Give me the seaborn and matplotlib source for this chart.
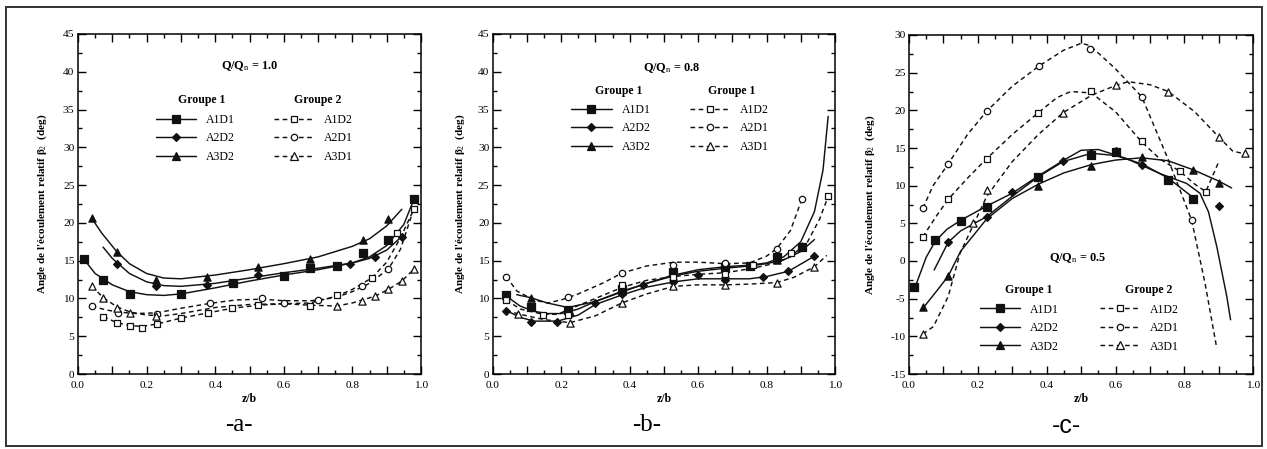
import matplotlib
matplotlib.use("Agg")
import matplotlib.pyplot as plt
from matplotlib.ticker import MultipleLocator, FuncFormatter
from matplotlib.lines import Line2D
from matplotlib.patches import Rectangle
import seaborn as sns

# ---------------------------------------------------------------- data
# Q/Qn = 1.0  (measured points and fitted curves)
a_A1D1_z = [0.017, 0.074, 0.152, 0.30, 0.453, 0.60, 0.676, 0.754, 0.832, 0.905, 0.98]
a_A1D1_b = [15.2, 12.5, 10.6, 10.6, 12.0, 13.0, 14.0, 14.3, 16.0, 17.8, 23.2]
a_A1D1_fz = [0.017, 0.05, 0.10, 0.15, 0.20, 0.25, 0.30, 0.40, 0.50, 0.60, 0.70, 0.80, 0.85, 0.90, 0.95, 0.98]
a_A1D1_fb = [15.2, 13.3, 11.8, 10.9, 10.5, 10.4, 10.6, 11.4, 12.3, 13.1, 13.8, 14.7, 15.5, 17.0, 19.8, 23.2]
a_A2D2_z = [0.113, 0.227, 0.375, 0.45, 0.526, 0.793, 0.866, 0.944]
a_A2D2_b = [14.6, 11.6, 11.8, 12.0, 13.1, 14.6, 15.5, 18.1]
a_A2D2_fz = [0.073, 0.10, 0.15, 0.20, 0.25, 0.30, 0.40, 0.50, 0.60, 0.70, 0.80, 0.85, 0.90, 0.944]
a_A2D2_fb = [16.8, 15.3, 13.3, 12.2, 11.7, 11.6, 12.0, 12.7, 13.4, 14.0, 14.7, 15.3, 16.4, 18.2]
a_A3D2_z = [0.04, 0.113, 0.227, 0.375, 0.526, 0.676, 0.832, 0.905]
a_A3D2_b = [20.6, 16.1, 12.5, 12.8, 14.1, 15.2, 17.7, 20.5]
a_A3D2_fz = [0.04, 0.07, 0.113, 0.15, 0.20, 0.25, 0.30, 0.40, 0.50, 0.60, 0.70, 0.80, 0.85, 0.90, 0.944]
a_A3D2_fb = [20.6, 18.6, 16.2, 14.6, 13.3, 12.7, 12.6, 13.1, 13.8, 14.6, 15.5, 16.9, 17.9, 19.6, 21.8]
a_A1D2_z = [0.074, 0.113, 0.152, 0.186, 0.229, 0.30, 0.38, 0.45, 0.526, 0.676, 0.754, 0.856, 0.929, 0.98]
a_A1D2_b = [7.6, 6.7, 6.35, 6.1, 6.6, 7.4, 8.1, 8.7, 9.1, 9.0, 10.5, 12.7, 18.7, 21.9]
a_A1D2_fz = [0.074, 0.113, 0.152, 0.186, 0.229, 0.30, 0.38, 0.45, 0.526, 0.60, 0.676, 0.754, 0.80, 0.856, 0.90, 0.94, 0.98]
a_A1D2_fb = [7.6, 6.8, 6.4, 6.3, 6.6, 7.4, 8.1, 8.7, 9.1, 9.3, 9.4, 10.3, 11.2, 12.7, 14.8, 18.0, 21.9]
a_A2D1_z = [0.04, 0.117, 0.23, 0.385, 0.535, 0.60, 0.70, 0.827, 0.905]
a_A2D1_b = [9.0, 8.1, 7.9, 9.35, 10.0, 9.4, 9.8, 11.6, 13.9]
a_A2D1_fz = [0.04, 0.08, 0.117, 0.17, 0.23, 0.30, 0.385, 0.46, 0.535, 0.60, 0.68, 0.75, 0.80, 0.85, 0.905, 0.94, 0.98]
a_A2D1_fb = [9.0, 8.5, 8.2, 8.0, 8.1, 8.7, 9.35, 9.8, 9.9, 9.7, 9.7, 10.1, 10.9, 12.0, 13.9, 16.5, 22.0]
a_A3D1_z = [0.04, 0.074, 0.113, 0.152, 0.227, 0.754, 0.827, 0.866, 0.905, 0.944, 0.98]
a_A3D1_b = [11.6, 10.0, 8.7, 8.1, 7.7, 9.0, 9.6, 10.3, 11.3, 12.3, 13.9]
a_A3D1_fz = [0.04, 0.074, 0.113, 0.152, 0.20, 0.25, 0.30, 0.40, 0.50, 0.60, 0.68, 0.754, 0.80, 0.866, 0.905, 0.944, 0.98]
a_A3D1_fb = [11.6, 10.1, 8.9, 8.2, 7.8, 7.7, 8.0, 8.8, 9.2, 9.3, 9.1, 9.0, 9.4, 10.3, 11.2, 12.3, 13.9]

# Q/Qn = 0.8
b_A1D1_z = [0.04, 0.111, 0.221, 0.377, 0.528, 0.679, 0.752, 0.83, 0.903]
b_A1D1_b = [10.4, 8.9, 8.5, 11.2, 13.5, 14.0, 14.3, 15.5, 16.8]
b_A1D1_fz = [0.04, 0.08, 0.12, 0.16, 0.20, 0.25, 0.30, 0.38, 0.45, 0.52, 0.60, 0.68, 0.75, 0.80, 0.85, 0.90, 0.94, 0.965, 0.98]
b_A1D1_fb = [10.3, 9.0, 8.3, 8.0, 8.0, 8.6, 9.6, 10.9, 12.0, 13.0, 13.8, 14.2, 14.4, 14.7, 15.5, 17.5, 21.5, 27.0, 34.1]
b_A2D2_z = [0.04, 0.111, 0.187, 0.299, 0.377, 0.44, 0.528, 0.601, 0.679, 0.79, 0.864, 0.94]
b_A2D2_b = [8.4, 6.9, 6.9, 9.35, 10.6, 11.8, 12.2, 13.1, 12.4, 12.9, 13.6, 15.6]
b_A2D2_fz = [0.04, 0.08, 0.12, 0.19, 0.25, 0.30, 0.38, 0.45, 0.53, 0.60, 0.68, 0.75, 0.80, 0.864, 0.94]
b_A2D2_fb = [8.4, 7.5, 7.0, 7.0, 7.8, 9.2, 10.5, 11.5, 12.2, 12.6, 12.6, 12.6, 12.9, 13.6, 15.6]
b_A3D2_z = [0.111, 0.226, 0.377, 0.528, 0.679, 0.83, 0.903]
b_A3D2_b = [10.1, 8.2, 11.0, 13.0, 13.3, 15.1, 17.0]
b_A3D2_fz = [0.07, 0.111, 0.16, 0.22, 0.30, 0.38, 0.45, 0.53, 0.60, 0.68, 0.75, 0.80, 0.85, 0.90, 0.94]
b_A3D2_fb = [10.5, 10.1, 9.4, 8.8, 9.6, 11.0, 12.0, 13.0, 13.6, 14.0, 14.3, 14.6, 15.1, 16.2, 17.8]
b_A1D2_z = [0.04, 0.148, 0.221, 0.377, 0.528, 0.679, 0.76, 0.87, 0.98]
b_A1D2_b = [9.8, 7.8, 7.8, 11.8, 12.9, 13.3, 14.4, 16.0, 23.5]
b_A1D2_fz = [0.04, 0.08, 0.148, 0.19, 0.22, 0.30, 0.38, 0.45, 0.53, 0.60, 0.68, 0.76, 0.82, 0.87, 0.92, 0.955, 0.98]
b_A1D2_fb = [9.8, 8.6, 7.9, 7.9, 8.5, 10.0, 11.5, 12.4, 12.9, 13.2, 13.4, 14.0, 14.6, 15.5, 17.5, 20.5, 23.5]
b_A2D1_z = [0.04, 0.221, 0.377, 0.528, 0.679, 0.83, 0.903]
b_A2D1_b = [12.9, 10.2, 13.4, 14.4, 14.7, 16.6, 23.1]
b_A2D1_fz = [0.04, 0.07, 0.12, 0.16, 0.20, 0.25, 0.32, 0.38, 0.45, 0.53, 0.60, 0.68, 0.75, 0.80, 0.83, 0.87, 0.903]
b_A2D1_fb = [12.9, 11.0, 9.8, 9.4, 9.8, 10.6, 12.0, 13.4, 14.3, 14.8, 14.8, 14.6, 14.7, 15.6, 16.6, 19.0, 23.1]
b_A3D1_z = [0.074, 0.226, 0.377, 0.528, 0.679, 0.83, 0.94]
b_A3D1_b = [7.9, 6.7, 9.4, 11.6, 11.8, 12.1, 14.2]
b_A3D1_fz = [0.04, 0.08, 0.15, 0.226, 0.30, 0.377, 0.45, 0.528, 0.60, 0.679, 0.75, 0.83, 0.88, 0.94, 0.976]
b_A3D1_fb = [8.4, 7.9, 7.2, 6.8, 7.7, 9.4, 10.6, 11.6, 11.8, 11.8, 11.9, 12.1, 12.8, 14.2, 15.7]

# Q/Qn = 0.5
c_A1D1_z = [0.015, 0.076, 0.15, 0.226, 0.376, 0.53, 0.60, 0.753, 0.826]
c_A1D1_b = [-3.5, 2.8, 5.35, 7.2, 11.1, 14.1, 14.5, 10.8, 8.2]
c_A1D1_fz = [0.015, 0.05, 0.076, 0.11, 0.15, 0.226, 0.30, 0.376, 0.45, 0.50, 0.55, 0.632, 0.729, 0.806, 0.845, 0.87, 0.894, 0.923, 0.934]
c_A1D1_fb = [-3.8, 0.5, 2.6, 4.2, 5.4, 7.3, 9.0, 11.3, 13.4, 14.7, 14.8, 13.6, 11.6, 10.3, 9.0, 6.5, 1.9, -4.7, -7.8]
c_A2D2_z = [0.114, 0.226, 0.30, 0.376, 0.448, 0.53, 0.60, 0.676, 0.826, 0.901]
c_A2D2_b = [2.5, 5.8, 9.1, 11.2, 13.3, 14.3, 14.6, 12.7, 8.2, 7.3]
c_A2D2_fz = [0.073, 0.114, 0.15, 0.226, 0.30, 0.376, 0.448, 0.53, 0.60, 0.676, 0.753, 0.826]
c_A2D2_fb = [-1.2, 2.5, 4.0, 5.9, 8.6, 11.2, 13.2, 14.3, 14.0, 12.9, 11.0, 8.4]
c_A3D2_z = [0.04, 0.114, 0.376, 0.53, 0.676, 0.826, 0.901]
c_A3D2_b = [-6.1, -2.0, 10.0, 12.6, 13.8, 12.1, 10.3]
c_A3D2_fz = [0.04, 0.08, 0.114, 0.15, 0.226, 0.30, 0.376, 0.45, 0.53, 0.60, 0.676, 0.753, 0.826, 0.90, 0.937]
c_A3D2_fb = [-6.3, -4.0, -2.0, 1.3, 5.6, 8.3, 10.2, 11.7, 12.8, 13.4, 13.7, 13.3, 12.1, 10.6, 9.7]
c_A1D2_z = [0.04, 0.114, 0.226, 0.376, 0.53, 0.676, 0.787, 0.862]
c_A1D2_b = [3.2, 8.2, 13.6, 19.7, 22.6, 15.9, 11.9, 9.2]
c_A1D2_fz = [0.04, 0.08, 0.114, 0.17, 0.226, 0.30, 0.376, 0.43, 0.47, 0.53, 0.60, 0.676, 0.73, 0.787, 0.83, 0.862, 0.898]
c_A1D2_fb = [3.2, 6.0, 8.2, 11.0, 13.6, 16.8, 19.7, 21.7, 22.5, 22.3, 19.8, 15.8, 13.5, 11.9, 10.2, 9.2, 13.0]
c_A2D1_z = [0.04, 0.114, 0.226, 0.378, 0.526, 0.676, 0.821]
c_A2D1_b = [7.0, 12.9, 19.9, 25.9, 28.1, 21.8, 5.4]
c_A2D1_fz = [0.04, 0.07, 0.114, 0.17, 0.226, 0.30, 0.378, 0.45, 0.50, 0.526, 0.60, 0.676, 0.75, 0.821, 0.86, 0.894]
c_A2D1_fb = [7.0, 10.0, 12.9, 16.8, 19.9, 23.2, 25.9, 28.0, 28.9, 28.6, 25.5, 21.8, 13.8, 5.4, -3.0, -11.6]
c_A3D1_z = [0.04, 0.187, 0.226, 0.448, 0.60, 0.753, 0.901, 0.976]
c_A3D1_b = [-9.7, 5.1, 9.4, 19.7, 23.3, 22.5, 16.4, 14.3]
c_A3D1_fz = [0.04, 0.071, 0.114, 0.148, 0.187, 0.226, 0.30, 0.376, 0.448, 0.53, 0.60, 0.637, 0.70, 0.753, 0.83, 0.901, 0.94, 0.976]
c_A3D1_fb = [-9.7, -8.7, -4.7, 1.0, 4.8, 8.6, 13.2, 16.8, 19.7, 22.0, 23.3, 23.8, 23.4, 22.5, 19.8, 16.4, 14.6, 14.2]

series_names = ["A1D1", "A2D2", "A3D2", "A1D2", "A2D1", "A3D1"]
flow_ratios = ["1.0", "0.8", "0.5"]
panel_tags = ["-a-", "-b-", "-c-"]
group_titles = [("Groupe 1", "Groupe 2"), ("Groupe 1", "Groupe 1"), ("Groupe 1", "Groupe 2")]

# ---------------------------------------------------------------- style
sns.set_theme(style="ticks")
serif = ["Liberation Serif", "DejaVu Serif"]
plt.rcParams.update({
    "font.family": serif,
    "mathtext.fontset": "custom",
    "mathtext.rm": "Liberation Serif",
    "mathtext.it": "Liberation Serif:italic",
    "mathtext.bf": "Liberation Serif:bold",
    "axes.edgecolor": "black",
    "axes.linewidth": 1.1,
    "xtick.color": "black",
    "ytick.color": "black",
    "text.color": "black",
    "axes.labelcolor": "black",
})

INK = "#111111"
DASH = (0, (3.2, 2.4))
marker_style = {
    "A1D1": dict(marker="s", ms=6.0, fill=INK, ls="-"),
    "A2D2": dict(marker="D", ms=4.0, fill=INK, ls="-"),
    "A3D2": dict(marker="^", ms=5.2, fill=INK, ls="-"),
    "A1D2": dict(marker="s", ms=5.0, fill="white", ls=DASH),
    "A2D1": dict(marker="o", ms=4.6, fill="white", ls=DASH),
    "A3D1": dict(marker="^", ms=5.2, fill="white", ls=DASH),
}

g = globals()

fig = plt.figure(figsize=(12.67, 4.49), dpi=100)
W, H = 1267.0, 449.0

axes_px = [(78, 421, 34, 374), (492.7, 835, 34, 374), (909, 1253.3, 35, 374)]
ylims = [(0, 45), (0, 45), (-15, 30)]
ylabel_x = [-0.085, -0.075, -0.093]
qq_pos = [(0.50, 40.8), (0.523, 40.5), (0.49, 0.4)]
title_pos = [((0.36, 0.70), 36.3), ((0.369, 0.698), 37.5), ((0.347, 0.695), -3.85)]
legend_rows = [(33.4, 31.2, 29.0), (34.7, 32.5, 30.4), (-6.5, -8.9, -10.9)]
legend_x = [(0.226, 0.57), (0.23, 0.576), (0.206, 0.555)]
tag_pos = [(239, 425), (646.7, 425), (1066.7, 426)]

LEG_FS = 8.5
for i, key in enumerate(["a", "b", "c"]):
    x0, x1, yt, yb = axes_px[i]
    ax = fig.add_axes([x0 / W, (H - yb) / H, (x1 - x0) / W, (yb - yt) / H])

    for name in series_names:
        st = marker_style[name]
        fz = g[f"{key}_{name}_fz"]
        fb = g[f"{key}_{name}_fb"]
        sns.lineplot(x=fz, y=fb, ax=ax, color=INK, linewidth=1.05,
                     linestyle=st["ls"], sort=False, estimator=None)
        pz = g[f"{key}_{name}_z"]
        pb = g[f"{key}_{name}_b"]
        sns.scatterplot(x=pz, y=pb, ax=ax, marker=st["marker"],
                        s=st["ms"] ** 2, color=INK, facecolor=st["fill"],
                        edgecolor=INK, linewidth=0.9, zorder=4)

    ax.set_xlim(0, 1.0)
    ax.set_ylim(*ylims[i])
    ax.xaxis.set_major_locator(MultipleLocator(0.1))
    ax.xaxis.set_minor_locator(MultipleLocator(0.05))
    ax.xaxis.set_major_formatter(FuncFormatter(
        lambda v, p: f"{v:.1f}" if abs(round(v * 10)) % 2 == 0 else ""))
    ax.yaxis.set_major_locator(MultipleLocator(5))
    ax.yaxis.set_minor_locator(MultipleLocator(2.5))
    ax.yaxis.set_major_formatter(FuncFormatter(lambda v, p: f"{v:.0f}"))
    ax.tick_params(which="both", direction="in", top=True, right=True,
                   labelsize=8.2, width=1.0)
    ax.tick_params(which="major", length=5.5)
    ax.tick_params(which="minor", length=2.6)
    ax.tick_params(axis="x", pad=5)
    ax.tick_params(axis="y", pad=2.5)

    ax.set_xlabel("z/b", fontsize=8.5, fontweight="bold")
    ax.xaxis.set_label_coords(0.5, -0.055)
    ax.xaxis.label.set_va("top")
    ax.set_ylabel("Angle de l'écoulement relatif β$_2$  (deg)", fontsize=8,
                  fontweight="bold")
    ax.yaxis.set_label_coords(ylabel_x[i], 0.5)

    qx, qy = qq_pos[i]
    ax.text(qx, qy, "Q/Q$_{\\rm n}$ = " + flow_ratios[i], ha="center",
            va="center", fontsize=8.8, fontweight="bold")
    (tx1, tx2), ty = title_pos[i]
    ax.text(tx1, ty, group_titles[i][0], ha="center", va="center",
            fontsize=8.5, fontweight="bold")
    ax.text(tx2, ty, group_titles[i][1], ha="center", va="center",
            fontsize=8.5, fontweight="bold")

    rows = legend_rows[i]
    spacing = (rows[0] - rows[2]) / 2.0
    px_per_unit = (yb - yt) / (ylims[i][1] - ylims[i][0])
    row_px = spacing * px_per_unit
    fs_px = LEG_FS * 100 / 72.0
    for gi, names in enumerate([series_names[:3], series_names[3:]]):
        handles = []
        for name in names:
            st = marker_style[name]
            handles.append(Line2D([], [], color=INK, lw=1.05, ls=st["ls"],
                                  marker=st["marker"], ms=st["ms"],
                                  markerfacecolor=st["fill"],
                                  markeredgecolor=INK, markeredgewidth=0.9))
        leg = ax.legend(handles, names, loc="center left",
                        bbox_to_anchor=(legend_x[i][gi], rows[1]),
                        bbox_transform=ax.transData, frameon=False,
                        borderpad=0, borderaxespad=0, numpoints=1,
                        handlelength=3.4, handletextpad=0.85,
                        labelspacing=row_px / fs_px - 0.85,
                        prop={"family": serif, "size": LEG_FS})
        if gi == 0:
            # keep the first group's legend when the second one is created
            ax.add_artist(leg)

    tx, ty2 = tag_pos[i]
    fam = ["Liberation Sans", "DejaVu Sans"] if i == 2 else serif
    fig.text(tx / W, (H - ty2) / H, panel_tags[i], ha="center", va="center",
             fontsize=18, family=fam)

# outer frame around the figure
fig.add_artist(Rectangle((6 / W, 3 / H), 1256 / W, 439 / H,
                         transform=fig.transFigure, fill=False,
                         edgecolor="#333333", linewidth=1.4))

fig.savefig("out.png", dpi=100)
